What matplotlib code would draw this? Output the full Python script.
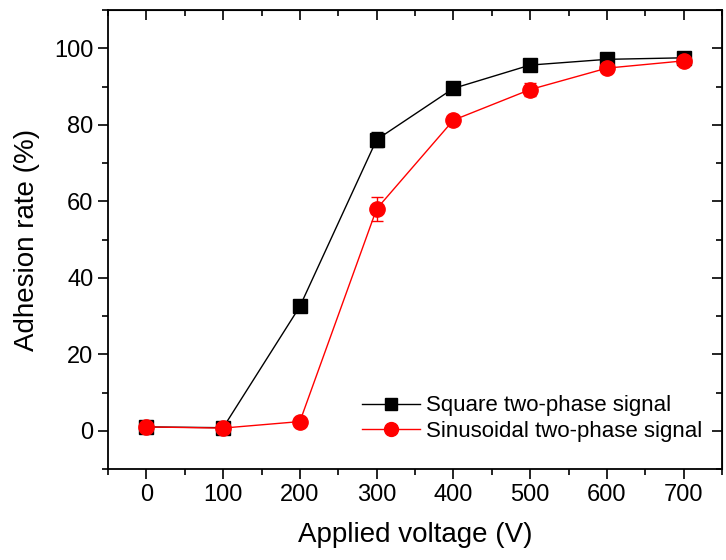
import matplotlib
matplotlib.use("Agg")
import matplotlib.pyplot as plt
from matplotlib.ticker import MultipleLocator
from matplotlib.lines import Line2D

plt.rcParams['font.family'] = ['Liberation Sans', 'DejaVu Sans']

voltage = [0, 100, 200, 300, 400, 500, 600, 700]
square = [1.0, 0.8, 32.5, 76.1, 89.5, 95.6, 97.1, 97.5]
square_err = [0.8, 0.8, 0.8, 2.0, 0.8, 0.8, 0.6, 0.6]
sinus = [1.0, 0.7, 2.4, 58.0, 81.2, 89.2, 94.8, 96.7]
sinus_err = [0.8, 0.6, 0.5, 3.2, 0.8, 1.6, 0.6, 0.6]
labels = ['Square two-phase signal', 'Sinusoidal two-phase signal']

fig = plt.figure(figsize=(7.26, 5.60), dpi=100)
ax = fig.add_axes([108/726, 1-469/560, (722-108)/726, (469-10)/560])

ax.errorbar(voltage, square, yerr=square_err, color='black', lw=1.0,
            marker='s', ms=10, mfc='black', mec='black',
            ecolor='black', elinewidth=1.0, capsize=4, capthick=1.0, zorder=3)
ax.errorbar(voltage, sinus, yerr=sinus_err, color='red', lw=1.0,
            marker='o', ms=11, mfc='red', mec='red',
            ecolor='red', elinewidth=1.0, capsize=4, capthick=1.0, zorder=4)

ax.set_xlim(-50, 750)
ax.set_ylim(-10, 110)
ax.xaxis.set_major_locator(MultipleLocator(100))
ax.xaxis.set_minor_locator(MultipleLocator(50))
ax.yaxis.set_major_locator(MultipleLocator(20))
ax.yaxis.set_minor_locator(MultipleLocator(10))

ax.tick_params(axis='both', which='both', direction='out', top=False, right=False,
               labelsize=17, width=1.2, color='black')
ax.tick_params(which='major', length=7)
ax.tick_params(which='minor', length=4)
ax.set_yticks([0, 20, 40, 60, 80, 100])
ax.set_xticks(voltage)

axt = ax.secondary_xaxis('top')
axt.xaxis.set_major_locator(MultipleLocator(100))
axt.xaxis.set_minor_locator(MultipleLocator(50))
axt.tick_params(which='both', direction='in', labeltop=False, width=1.2)
axt.tick_params(which='major', length=7)
axt.tick_params(which='minor', length=4)
axr = ax.secondary_yaxis('right')
axr.yaxis.set_major_locator(MultipleLocator(20))
axr.yaxis.set_minor_locator(MultipleLocator(10))
axr.tick_params(which='both', direction='in', labelright=False, width=1.2)
axr.tick_params(which='major', length=7)
axr.tick_params(which='minor', length=4)

for s in ax.spines.values():
    s.set_linewidth(1.3)

ax.set_xlabel('Applied voltage (V)', fontsize=20, labelpad=12)
ax.set_ylabel('Adhesion rate (%)', fontsize=20, labelpad=10)

handles = [Line2D([], [], color='black', lw=1.0, marker='s', ms=9, mfc='black', mec='black'),
           Line2D([], [], color='red', lw=1.0, marker='o', ms=10, mfc='red', mec='red')]
ax.legend(handles, labels, loc='lower right', bbox_to_anchor=(0.99, 0.03), frameon=False,
          fontsize=16, handlelength=2.6, handletextpad=0.3,
          labelspacing=0.2, borderaxespad=0.2)

fig.savefig('out.png', dpi=100)
